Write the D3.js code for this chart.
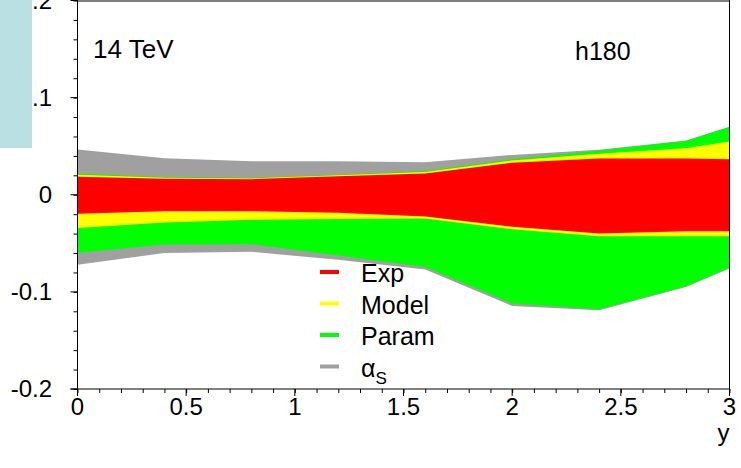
<!DOCTYPE html>
<html lang="en">
<head>
  <meta charset="UTF-8">
  <title>h180 uncertainty bands</title>
  <script src="https://d3js.org/d3.v7.min.js"></script>
  <style>
    body { margin: 0; background: white; }
    svg { display: block; }
    text { font-family: "Liberation Sans", Arial, Helvetica, sans-serif; fill: black; }
  </style>
</head>
<body>
  <svg id="chart" width="741" height="468"></svg>

  <script>
    // rapidity points
    const yPoints = [0, 0.4, 0.8, 1.2, 1.6, 2.0, 2.4, 2.8, 3.0];

    // band edges (relative deviation), innermost first
    const expUp     = [0.0185, 0.0165, 0.0160, 0.0190, 0.0220, 0.0330, 0.0373, 0.0373, 0.0366];
    const expLo     = [-0.0195, -0.0169, -0.0169, -0.0185, -0.0223, -0.0330, -0.0399, -0.0376, -0.0376];
    const modelUp   = [0.0206, 0.0175, 0.0168, 0.0200, 0.0235, 0.0353, 0.0422, 0.0480, 0.0548];
    const modelLo   = [-0.0343, -0.0285, -0.0257, -0.0250, -0.0245, -0.0355, -0.0427, -0.0427, -0.0427];
    const paramUp   = [0.0219, 0.0181, 0.0175, 0.0206, 0.0245, 0.0365, 0.0456, 0.0553, 0.0697];
    const paramLo   = [-0.0597, -0.0511, -0.0509, -0.0625, -0.0743, -0.1120, -0.1180, -0.0943, -0.0750];
    const alphasUp  = [0.0466, 0.0377, 0.0346, 0.0346, 0.0335, 0.0410, 0.0463, 0.0559, 0.0700];
    const alphasLo  = [-0.0720, -0.0600, -0.0588, -0.0670, -0.0770, -0.1145, -0.1190, -0.0950, -0.0760];

    const bandNames = ["Exp", "Model", "Param", "alphaS"];
    const bandColors = ["#ff0000", "#ffff00", "#00ff00", "#a0a0a0"];

    const xMajor = [0, 0.5, 1, 1.5, 2, 2.5, 3];
    const yMajor = [-0.2, -0.1, 0, 0.1, 0.2];
    const yLabels = ["-0.2", "-0.1", "0", "0.1", "0.2"];

    const padL = 77.5, padR = 729.5, padT = 0.5, padB = 389;

    const svg = d3.select("#chart");
    const x = d3.scaleLinear().domain([0, 3]).range([padL, padR]);
    const y = d3.scaleLinear().domain([-0.2, 0.2]).range([padB, padT]);

    svg.append("defs").append("clipPath").attr("id", "frame")
      .append("rect").attr("x", padL).attr("y", padT)
      .attr("width", padR - padL).attr("height", padB - padT);

    const bands = [
      { up: alphasUp, lo: alphasLo, color: bandColors[3] },
      { up: paramUp, lo: paramLo, color: bandColors[2] },
      { up: modelUp, lo: modelLo, color: bandColors[1] },
      { up: expUp, lo: expLo, color: bandColors[0] }
    ];

    const area = d3.area()
      .x((d, i) => x(yPoints[i]))
      .y0(d => y(d[0]))
      .y1(d => y(d[1]));

    const bandGroup = svg.append("g").attr("clip-path", "url(#frame)");
    bands.forEach(b => {
      bandGroup.append("path")
        .datum(b.lo.map((v, i) => [v, b.up[i]]))
        .attr("d", area)
        .attr("fill", b.color);
    });

    // frame
    svg.append("line").attr("x1", padL).attr("x2", padR).attr("y1", 1).attr("y2", 1)
      .attr("stroke", "#808080").attr("stroke-width", 2);
    svg.append("line").attr("x1", padR).attr("x2", padR).attr("y1", 0).attr("y2", padB)
      .attr("stroke", "black").attr("stroke-width", 1);

    // y axis, ticks outward
    const yAxis = d3.axisLeft(y)
      .tickValues(d3.range(-0.2, 0.2001, 0.02))
      .tickSize(4)
      .tickFormat("");
    const yg = svg.append("g").attr("transform", `translate(${padL},0)`).call(yAxis);
    yg.select(".domain").remove();
    yg.selectAll(".tick line").attr("stroke", "black");
    yg.append("line").attr("x1", 0).attr("x2", 0).attr("y1", 0).attr("y2", padB).attr("stroke", "black");
    yMajor.forEach((v, i) => {
      yg.append("line").attr("x1", -7).attr("x2", 0).attr("y1", y(v)).attr("y2", y(v)).attr("stroke", "black");
      yg.append("text").attr("x", -25.5).attr("y", y(v)).attr("dy", "0.35em")
        .attr("text-anchor", "end").attr("font-size", 24).text(yLabels[i]);
    });

    // x axis, ticks down
    const xAxis = d3.axisBottom(x)
      .tickValues(d3.range(0, 3.001, 0.1))
      .tickSize(4)
      .tickFormat("");
    const xg = svg.append("g").attr("transform", `translate(0,${padB})`).call(xAxis);
    xg.select(".domain").remove();
    xg.selectAll(".tick line").attr("stroke", "black");
    xg.append("line").attr("x1", padL - 7).attr("x2", padR).attr("y1", 0).attr("y2", 0).attr("stroke", "black");
    xMajor.forEach(v => {
      xg.append("line").attr("x1", x(v)).attr("x2", x(v)).attr("y1", 0).attr("y2", 7).attr("stroke", "black");
      xg.append("text").attr("x", x(v)).attr("y", 26).attr("text-anchor", "middle")
        .attr("font-size", 24).text(d3.format("")(v));
    });

    svg.append("text").attr("x", padR).attr("y", 441).attr("text-anchor", "end")
      .attr("font-size", 24).text("y");

    svg.append("text").attr("x", 93).attr("y", 58).attr("font-size", 26).text("14 TeV");
    svg.append("text").attr("x", 575).attr("y", 60).attr("font-size", 25).text("h180");

    // legend
    const legendY = [272, 303.5, 335, 366.5];
    const legend = svg.append("g");
    bandNames.forEach((name, i) => {
      legend.append("line").attr("x1", 320).attr("x2", 339)
        .attr("y1", legendY[i]).attr("y2", legendY[i])
        .attr("stroke", bandColors[i]).attr("stroke-width", 4);
      const t = legend.append("text").attr("x", 361).attr("y", legendY[i] + 10).attr("font-size", 25);
      if (name === "alphaS") {
        t.append("tspan").text("α");
        t.append("tspan").attr("dy", 7).attr("font-size", 17).text("S");
      } else {
        t.text(name);
      }
    });

    // pad overlay box at top left
    svg.append("rect").attr("x", 0).attr("y", 0).attr("width", 32).attr("height", 148)
      .attr("fill", "#bae0e3");
  </script>
</body>
</html>
